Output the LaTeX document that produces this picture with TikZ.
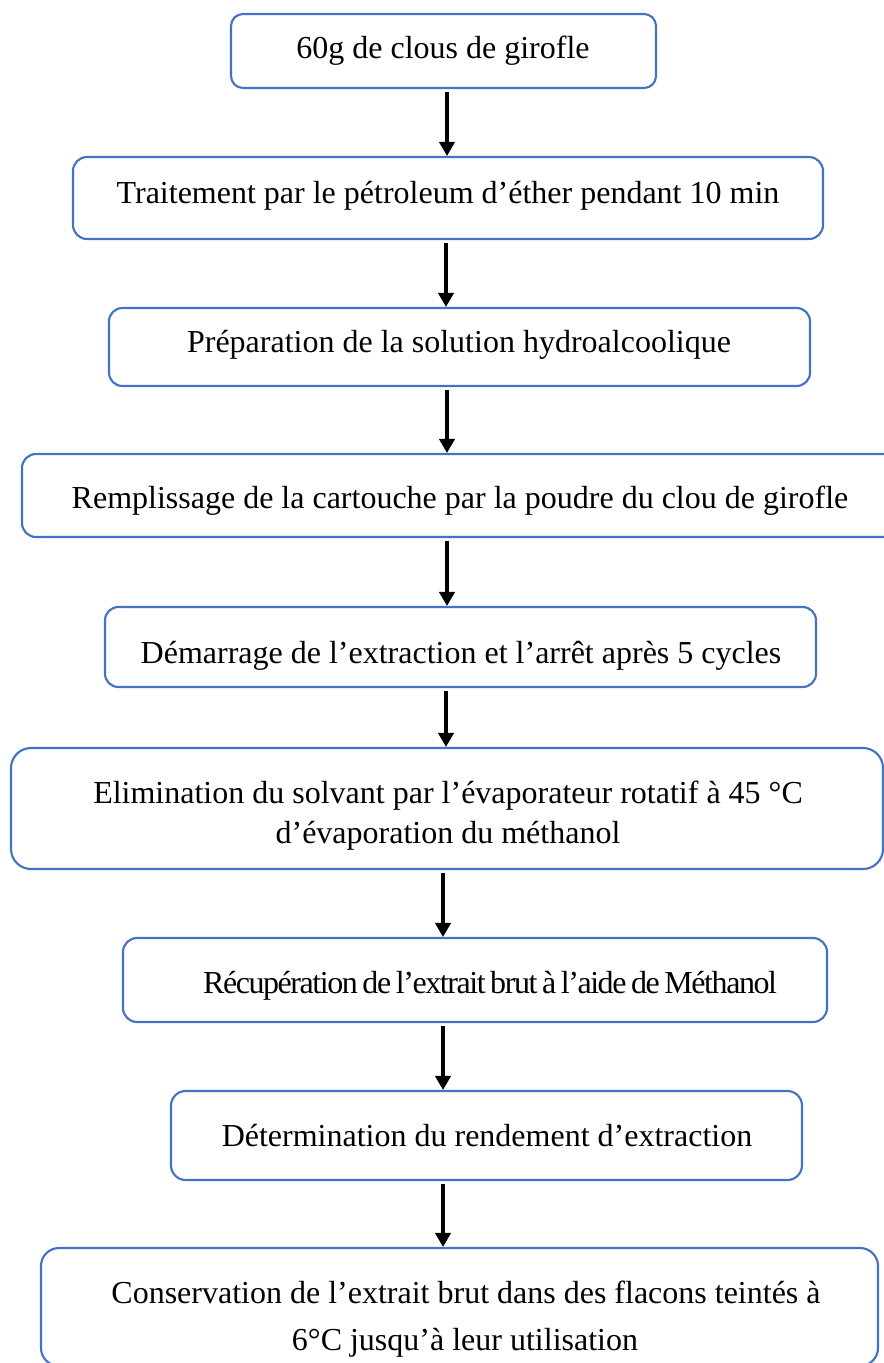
\documentclass[tikz,border=0pt]{standalone}
\usepackage{fontspec}
\setmainfont{Liberation Serif}
\newfontfamily\tightfont[LetterSpace=-4.5,WordSpace=0.7]{Liberation Serif}
\usetikzlibrary{arrows.meta}
\definecolor{boxblue}{HTML}{4472C4}
\tikzset{
  box/.style={draw=boxblue, line width=1.6pt, fill=white, inner sep=0pt},
  txt/.style={inner sep=0pt, anchor=base, font=\fontsize{24pt}{30pt}\selectfont},
  arr/.style={line width=2.3pt, -{Triangle[length=10.5pt,width=11.5pt]}, shorten <=2.5pt}
}
\begin{document}
\begin{tikzpicture}[x=0.75pt, y=-0.75pt]
\useasboundingbox (0,0) rectangle (884,1363);
\clip (0,0) rectangle (884,1363);
% boxes
\node[box, minimum width=318.75pt, minimum height=55.5pt, rounded corners=9pt]  (b1) at (443.5,51) {};
\node[box, minimum width=562.5pt,  minimum height=61.5pt, rounded corners=10.5pt] (b2) at (448,198) {};
\node[box, minimum width=525.75pt, minimum height=58.5pt, rounded corners=10pt] (b3) at (459.5,347) {};
\node[box, minimum width=657pt,    minimum height=62.25pt, rounded corners=10.5pt] (b4) at (460,495.5) {};
\node[box, minimum width=533.25pt, minimum height=60pt, rounded corners=10pt] (b5) at (460.5,647) {};
\node[box, minimum width=654pt,    minimum height=90.75pt, rounded corners=15pt] (b6) at (447,808.5) {};
\node[box, minimum width=528pt,    minimum height=63pt, rounded corners=10.5pt] (b7) at (475,980) {};
\node[box, minimum width=473.25pt, minimum height=66.75pt, rounded corners=11pt] (b8) at (486.5,1135.5) {};
\node[box, minimum width=627.75pt, minimum height=88.5pt, rounded corners=13.5pt] (b9) at (459.5,1307) {};
% texts
\node[txt] (t1) at (443,59) {60g de clous de girofle};
\node[txt] (t2) at (448,203) {Traitement par le pétroleum d’éther pendant 10 min};
\node[txt] (t3) at (459,352) {Préparation de la solution hydroalcoolique};
\node[txt] (t4) at (460,508) {Remplissage de la cartouche par la poudre du clou de girofle};
\node[txt] (t5) at (461,663) {Démarrage de l’extraction et l’arrêt après 5 cycles};
\node[txt] (t6a) at (448,803) {Elimination du solvant par l’évaporateur rotatif à 45 °C};
\node[txt] (t6b) at (448,843) {d’évaporation du méthanol};
\node[txt] (t7) at (490,993) {\tightfont Récupération de l’extrait brut à l’aide de Méthanol};
\node[txt] (t8) at (487,1146) {Détermination du rendement d’extraction};
\node[txt] (t9a) at (466,1303) {Conservation de l’extrait brut dans des flacons teintés à};
\node[txt] (t9b) at (465,1350) {6°C jusqu’à leur utilisation};
% arrow columns
\coordinate (x447) at (447,0);
\coordinate (x446) at (446,0);
\coordinate (x443) at (443,0);
% arrows
\draw[arr] (b1.south -| x447) -- (b2.north -| x447);
\draw[arr] (b2.south -| x446) -- (b3.north -| x446);
\draw[arr] (b3.south -| x447) -- (b4.north -| x447);
\draw[arr] (b4.south -| x447) -- (b5.north -| x447);
\draw[arr] (b5.south -| x446) -- (b6.north -| x446);
\draw[arr] (b6.south -| x443) -- (b7.north -| x443);
\draw[arr] (b7.south -| x443) -- (b8.north -| x443);
\draw[arr] (b8.south -| x443) -- (b9.north -| x443);
\end{tikzpicture}
\end{document}
